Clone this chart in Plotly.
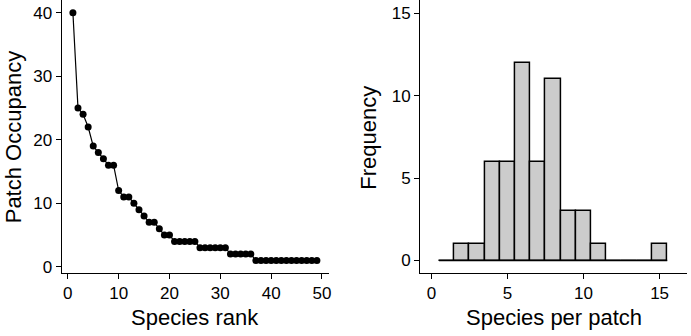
import plotly.graph_objects as go

# Left panel: species rank vs patch occupancy
species_rank = list(range(1, 50))
patch_occupancy = [40, 25, 24, 22, 19, 18, 17, 16, 16, 12,
                   11, 11, 10, 9, 8, 7, 7, 6, 5, 5,
                   4, 4, 4, 4, 4, 3, 3, 3, 3, 3,
                   3, 2, 2, 2, 2, 2, 1, 1, 1, 1,
                   1, 1, 1, 1, 1, 1, 1, 1, 1]

# Right panel: histogram of species per patch (bins of width 1, centred on integers)
bin_centers = list(range(1, 16))
bin_counts = [0, 1, 1, 6, 6, 12, 6, 11, 3, 3, 1, 0, 0, 0, 1]
bin_width = 1

left_ticks = [0, 10, 20, 30, 40, 50]
left_yticks = [0, 10, 20, 30, 40]
right_ticks = [0, 5, 10, 15]
right_yticks = [0, 5, 10, 15]

W, H = 691, 336
FONT = "Liberation Sans, Arial, Helvetica, sans-serif"

fig = go.Figure()

fig.add_trace(go.Scatter(
    x=species_rank, y=patch_occupancy, mode="lines+markers",
    line=dict(color="black", width=1.2),
    marker=dict(color="black", size=7),
    xaxis="x", yaxis="y", showlegend=False, cliponaxis=False))

edges = [bin_centers[0] - bin_width / 2, bin_centers[-1] + bin_width / 2]
fig.add_trace(go.Scatter(
    x=edges, y=[0, 0], mode="lines",
    line=dict(color="black", width=1.5),
    xaxis="x2", yaxis="y2", showlegend=False))

fig.add_trace(go.Bar(
    x=bin_centers, y=bin_counts, width=bin_width,
    marker=dict(color="#cccccc", line=dict(color="black", width=1.5)),
    xaxis="x2", yaxis="y2", showlegend=False))

axis_common = dict(
    showline=True, linecolor="black", linewidth=1.3, mirror=False,
    ticks="outside", ticklen=5, tickwidth=1.3, tickcolor="black",
    showgrid=False, zeroline=False,
    tickfont=dict(family=FONT, size=17, color="black"))

ydom = [(H - 276) / H, 1.0]

fig.update_layout(
    width=W, height=H,
    margin=dict(l=0, r=0, t=0, b=0),
    paper_bgcolor="white", plot_bgcolor="white",
    bargap=0,
    xaxis=dict(domain=[62 / W, 330 / W], range=[-1.2, 51.3],
               tickvals=left_ticks, anchor="y", **axis_common),
    yaxis=dict(domain=ydom, range=[-0.93, 42], tickvals=left_yticks,
               anchor="x", **axis_common),
    xaxis2=dict(domain=[422 / W, 690 / W], range=[-0.74, 16.8],
                tickvals=right_ticks, anchor="y2", **axis_common),
    yaxis2=dict(domain=ydom, range=[-0.74, 15.8], tickvals=right_yticks,
                anchor="x2", **axis_common),
)

title_font = dict(family=FONT, size=22, color="black")
annos = [
    dict(text="Species rank", x=196 / W, y=(H - 321) / H),
    dict(text="Species per patch", x=556 / W, y=(H - 321) / H),
    dict(text="Patch Occupancy", x=13 / W, y=(H - 139) / H, textangle=-90),
    dict(text="Frequency", x=370 / W, y=(H - 139) / H, textangle=-90),
]
for a in annos:
    fig.add_annotation(xref="paper", yref="paper", showarrow=False,
                       xanchor="center", yanchor="middle",
                       font=title_font, **a)

fig.write_html("out.html",
               config={"displayModeBar": False},
               post_script="document.body.style.margin='0';document.body.style.overflow='hidden';")
